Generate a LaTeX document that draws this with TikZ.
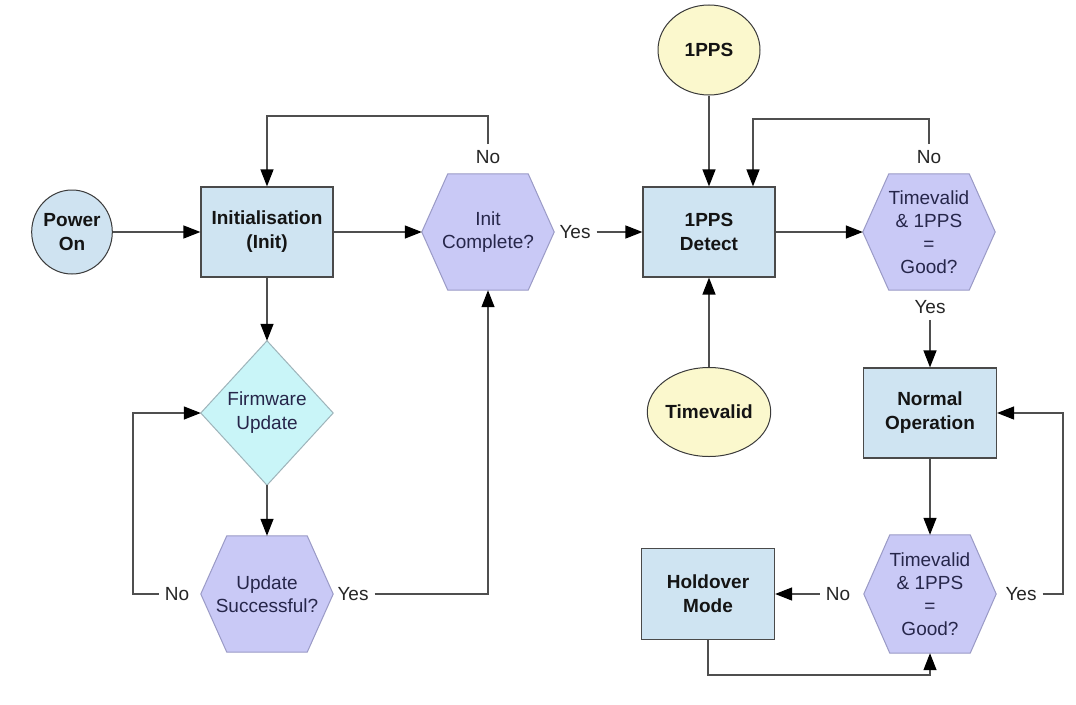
\documentclass[tikz,border=0pt]{standalone}
\usepackage{fontspec}
\setmainfont{Liberation Sans}
\usetikzlibrary{arrows.meta,shapes.geometric,backgrounds,calc}
\definecolor{boxfill}{HTML}{CFE4F2}
\definecolor{boxline}{HTML}{4A4A4A}
\definecolor{hexfill}{HTML}{C9C9F6}
\definecolor{hexline}{HTML}{9A9AC6}
\definecolor{dmdfill}{HTML}{C9F5F8}
\definecolor{dmdline}{HTML}{9EB4BA}
\definecolor{pwrfill}{HTML}{CFE3F1}
\definecolor{ylwfill}{HTML}{FBF8CD}
\definecolor{ovalline}{HTML}{3A3A3A}
\definecolor{linecol}{HTML}{4F4F4F}
\definecolor{txtdark}{HTML}{141414}
\definecolor{hextext}{HTML}{26264A}
\definecolor{lbltext}{HTML}{262626}
\begin{document}
\begin{tikzpicture}[x=1pt,y=-1pt,
  stepbox/.style={draw=boxline, fill=boxfill, line width=1.2pt, minimum width=132pt, minimum height=90pt, inner sep=0pt, align=center, font=\bfseries\fontsize{19}{24}\selectfont, text=txtdark},
  hexnode/.style={minimum width=132pt, minimum height=116pt, inner sep=0pt, align=center, font=\fontsize{19}{23}\selectfont, text=hextext},
  dmdnode/.style={minimum width=132pt, minimum height=144pt, inner sep=0pt, align=center, font=\fontsize{19}{24}\selectfont, text=hextext},
  hexshape/.style={fill=hexfill, draw=hexline, line width=1pt},
  dmdshape/.style={fill=dmdfill, draw=dmdline, line width=1pt},
  oval/.style={ellipse, draw=ovalline, line width=1pt, inner sep=0pt, align=center, font=\bfseries\fontsize{19}{24}\selectfont, text=txtdark},
  lbl/.style={inner sep=6pt, font=\fontsize{19}{22}\selectfont, text=lbltext},
  conn/.style={draw=linecol, line width=1.3pt},
  arr/.style={conn, -{Triangle[length=17pt,width=13pt,color=black]}}
]
\useasboundingbox (0,0) rectangle (1076,704);

% nodes
\node[oval, fill=pwrfill, minimum width=80pt, minimum height=84pt] (pwr) at (72,232) {Power\\On};
\node[stepbox] (init) at (267,232) {Initialisation\\(Init)};
\node[hexnode] (h1) at (488,232) {Init\\Complete?};
\node[stepbox] (det) at (709,232) {1PPS\\Detect};
\node[oval, fill=ylwfill, minimum width=102pt, minimum height=90pt] (pps) at (709,50) {1PPS};
\node[oval, fill=ylwfill, minimum width=102pt, minimum height=89pt] (tv) at (709,412) {Timevalid};
\node[hexnode] (h2) at (929,232) {Timevalid\\\& 1PPS\\=\\Good?};
\node[stepbox, minimum width=133pt] (norm) at (930,413) {Normal\\Operation};
\node[hexnode, minimum height=118pt] (h3) at (930,594) {Timevalid\\\& 1PPS\\=\\Good?};
\node[stepbox, minimum width=133pt, minimum height=91pt] (hold) at (708,594) {Holdover\\Mode};
\node[dmdnode] (fw) at (267,413) {Firmware\\Update};
\node[hexnode] (h4) at (267,594) {Update\\Successful?};

% shapes behind hexagon/diamond nodes
\begin{scope}[on background layer]
  \fill[white] (0,0) rectangle (1076,704);
  \foreach \h in {h1,h2,h3,h4}{
    \draw[hexshape] (\h.west) -- ([xshift=26pt]\h.north west) -- ([xshift=-26pt]\h.north east)
      -- (\h.east) -- ([xshift=-26pt]\h.south east) -- ([xshift=26pt]\h.south west) -- cycle;
  }
  \draw[dmdshape] (fw.west) -- (fw.north) -- (fw.east) -- (fw.south) -- cycle;
\end{scope}

% labels
\node[lbl] (no1) at (488,157) {No};
\node[lbl] (yes1) at (575,232) {Yes};
\node[lbl] (no2) at (929,157) {No};
\node[lbl] (yes2) at (930,307) {Yes};
\node[lbl] (no3) at (838,594) {No};
\node[lbl] (yes3) at (1021,594) {Yes};
\node[lbl] (yes4) at (353,594) {Yes};
\node[lbl] (no4) at (177,594) {No};

% corner coordinates
\coordinate (c1) at (267,116);
\coordinate (c2) at (753,119);
\coordinate (c3) at (1063,413);
\coordinate (c4) at (930,675);
\coordinate (c6) at (133,413);

% connectors
\draw[arr] (pwr.east) -- (init.west);
\draw[arr] (init.east) -- (h1.west);
\draw[arr] (yes1.east) -- (det.west);
\draw[arr] (no1.north) |- (c1) -- (init.north);
\draw[arr] (det.east) -- (h2.west);
\draw[arr] (no2.north) |- (c2) -- (c2 |- det.north);
\draw[arr] (pps.south) -- (det.north);
\draw[arr] (tv.north) -- (det.south);
\draw[arr] (yes2.south) -- (norm.north);
\draw[arr] (norm.south) -- (h3.north);
\draw[arr] (no3.west) -- (hold.east);
\draw[arr] (yes3.east) -| (c3) -- (norm.east);
\draw[arr] (hold.south) |- (c4) -- (h3.south);
\draw[arr] (init.south) -- (fw.north);
\draw[arr] (fw.south) -- (h4.north);
\draw[arr] (yes4.east) -| (h1.south);
\draw[arr] (no4.west) -| (c6) -- (fw.west);
\end{tikzpicture}
\end{document}
